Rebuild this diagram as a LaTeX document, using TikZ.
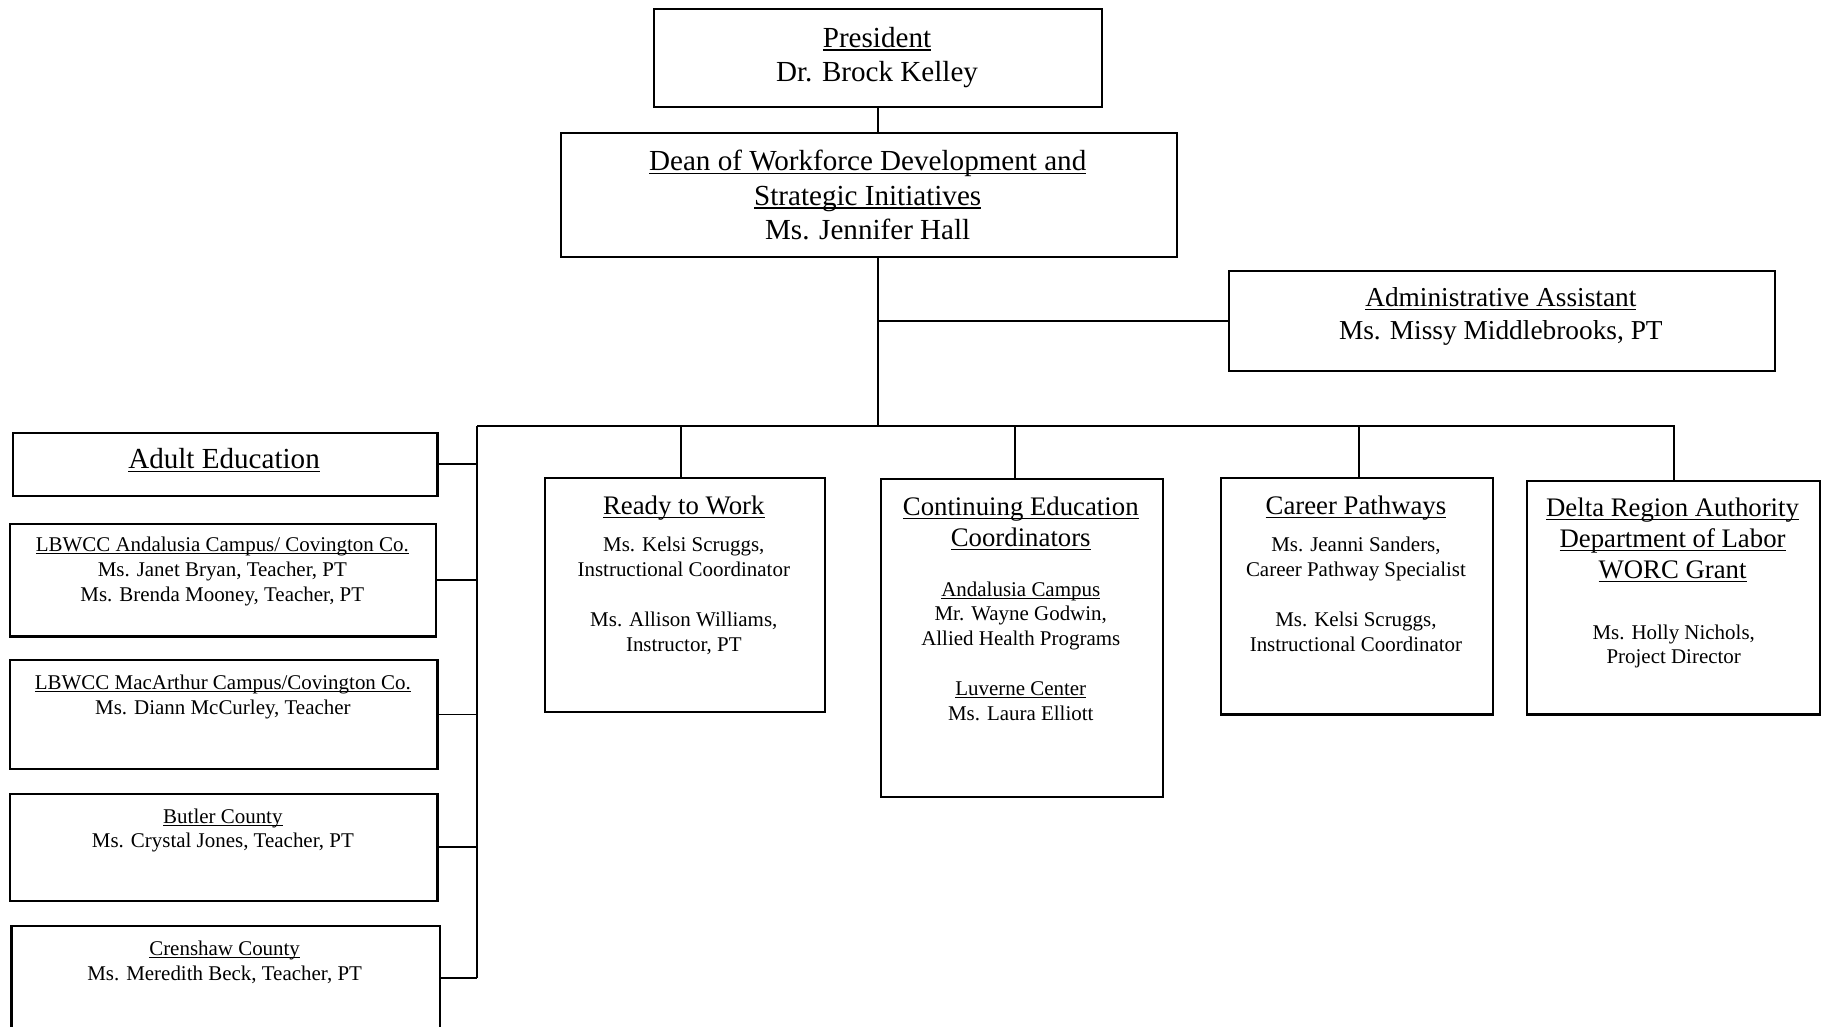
\documentclass[tikz,border=0pt]{standalone}
\usepackage{amsmath}
\usepackage{fontspec}
\setmainfont{Liberation Serif}

\newcommand{\ulin}[1]{\setbox0=\hbox{#1}\rlap{\rule[-0.12em]{\wd0}{0.05em}}\box0}

\tikzset{
  box/.style = {draw, line width=1.8pt, inner sep=0pt, anchor=north west},
  txt/.style = {anchor=north, inner sep=0pt, align=center},
  link/.style = {line width=1.6pt},
  ftbig/.style = {font=\fontsize{25}{29.5}\selectfont},
  fthead/.style = {font=\fontsize{23}{26.5}\selectfont},
  ftsmall/.style = {font=\fontsize{18}{21.3}\selectfont}
}

\begin{document}
\begin{tikzpicture}[x=1pt, y=-1pt]
        \useasboundingbox (0,0) rectangle (1568,882);
        \clip (0,0) rectangle (1568,882);

        % top of the chart
        \node[box, minimum width=385pt, minimum height=84pt] (pres) at (561,7) {};
        \node[txt, ftbig] (presT) at (753.5,23) {\ulin{President}\\Dr. Brock Kelley};
        \node[box, minimum width=529pt, minimum height=107pt] (dean) at (481,113) {};
        \node[txt, ftbig] (deanT) at (745.5,129) {\ulin{Dean of Workforce Development and}\\\ulin{Strategic Initiatives}\\Ms. Jennifer Hall};
        \node[box, minimum width=469pt, minimum height=86pt] (admin) at (1055,232) {};
        \node[txt, font=\fontsize{23.5}{28}\selectfont] (adminT) at (1289.5,247) {\ulin{Administrative Assistant}\\Ms. Missy Middlebrooks, PT};

        % adult education column
        \node[box, minimum width=365pt, minimum height=54pt] (adult) at (10,371) {};
        \node[txt, ftbig] (adultT) at (192.5,385) {\ulin{Adult Education}};
        \node[box, minimum width=366pt, minimum height=97pt] (andal) at (8,449) {};
        \node[txt, ftsmall] (andalT) at (191,461.5) {\ulin{LBWCC Andalusia Campus/ Covington Co.}\\Ms. Janet Bryan, Teacher, PT\\Ms. Brenda Mooney, Teacher, PT};
        \node[box, minimum width=367pt, minimum height=94pt] (macarthur) at (8,566) {};
        \node[txt, ftsmall] (macarthurT) at (191.5,579.5) {\ulin{LBWCC MacArthur Campus/Covington Co.}\\Ms. Diann McCurley, Teacher};
        \node[box, minimum width=367pt, minimum height=92pt] (butler) at (8,681) {};
        \node[txt, ftsmall] (butlerT) at (191.5,694.5) {\ulin{Butler County}\\Ms. Crystal Jones, Teacher, PT};
        \node[box, minimum width=368pt, minimum height=89pt] (crenshaw) at (9,795) {};
        \node[txt, ftsmall] (crenshawT) at (193,808.5) {\ulin{Crenshaw County}\\Ms. Meredith Beck, Teacher, PT};

        % programs
        \node[box, minimum width=241pt, minimum height=201pt] (ready) at (467,410) {};
        \node[txt, fthead] (readyT) at (587.5,426) {\ulin{Ready to Work}};
        \node[txt, ftsmall] (readyB) at (587.5,461.5) {Ms. Kelsi Scruggs,\\Instructional Coordinator\\[21.3pt]Ms. Allison Williams,\\Instructor, PT};
        \node[box, minimum width=242pt, minimum height=273pt] (ce) at (756,411) {};
        \node[txt, fthead] (ceT) at (877,427) {\ulin{Continuing Education}\\\ulin{Coordinators}};
        \node[txt, ftsmall] (ceB) at (877,499.5) {\ulin{Andalusia Campus}\\Mr. Wayne Godwin,\\Allied Health Programs\\[21.3pt]\ulin{Luverne Center}\\Ms. Laura Elliott};
        \node[box, minimum width=234pt, minimum height=203pt] (career) at (1048,410) {};
        \node[txt, fthead] (careerT) at (1165,426) {\ulin{Career Pathways}};
        \node[txt, ftsmall] (careerB) at (1165,461.5) {Ms. Jeanni Sanders,\\Career Pathway Specialist\\[21.3pt]Ms. Kelsi Scruggs,\\Instructional Coordinator};
        \node[box, minimum width=252pt, minimum height=201pt] (delta) at (1311,412) {};
        \node[txt, fthead] (deltaT) at (1437,428) {\ulin{Delta Region Authority}\\\ulin{Department of Labor}\\\ulin{WORC Grant}};
        \node[txt, ftsmall] (deltaB) at (1438,536.5) {Ms. Holly Nichols,\\Project Director};

        % connectors
        \coordinate (busL) at (410,366);
        \draw[link] (pres.south) -- (pres.south |- dean.north);
        \draw[link] (pres.south |- dean.south) -- (pres.south |- busL);
        \draw[link] (pres.south |- admin.west) -- (admin.west);
        \draw[link] (busL) -- (delta.north |- busL) -- (delta.north);
        \draw[link] ([xshift=-3.5pt]ready.north |- busL) -- ([xshift=-3.5pt]ready.north);
        \draw[link] ([xshift=-6pt]ce.north |- busL) -- ([xshift=-6pt]ce.north);
        \draw[link] ([xshift=2pt]career.north |- busL) -- ([xshift=2pt]career.north);
        \draw[link] (busL) -- (busL |- crenshaw.east);
        \foreach \b in {adult, andal, macarthur, butler, crenshaw}
            \draw[link] (\b.east) -- (busL |- \b.east);
\end{tikzpicture}
\end{document}
